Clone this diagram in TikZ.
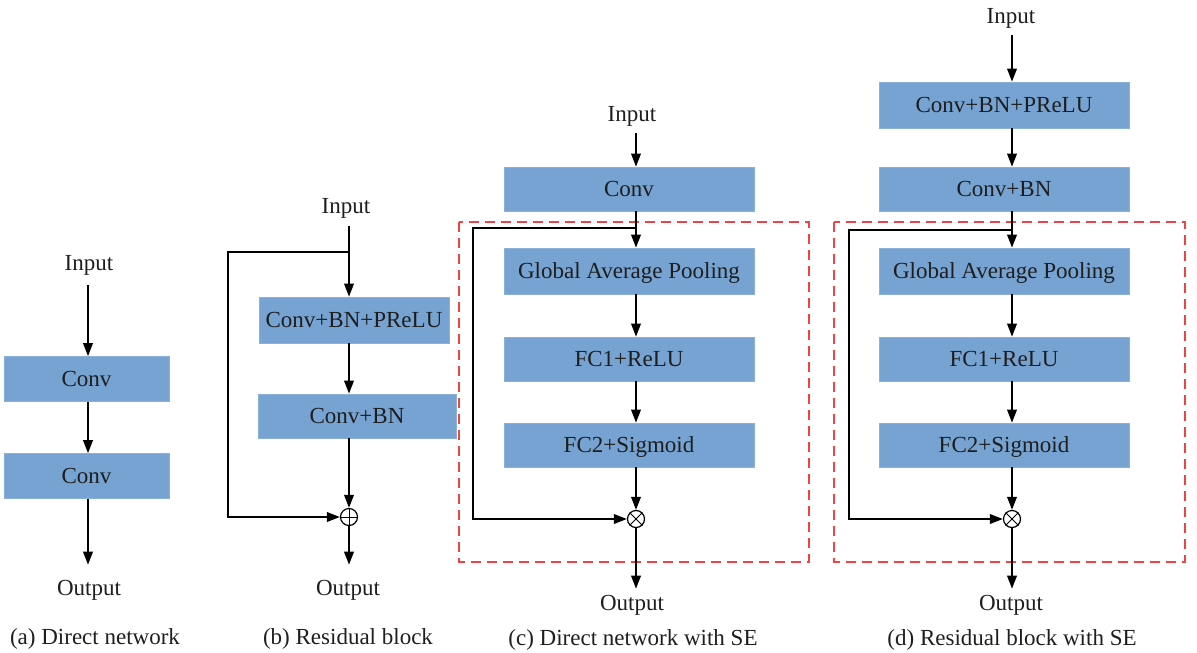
\documentclass[tikz,border=0pt]{standalone}
\usepackage{fontspec}
\setmainfont{Liberation Serif}
\usetikzlibrary{arrows.meta}
\definecolor{boxblue}{RGB}{118,163,210}
\definecolor{dashred}{RGB}{238,68,68}
\definecolor{txtc}{RGB}{30,30,30}
\begin{document}
\begin{tikzpicture}[x=1pt,y=-1pt,
  blk/.style={fill=boxblue, draw=boxblue!85!white, line width=0.6pt, minimum width=250pt, minimum height=44pt, inner sep=0pt, text height=15.5pt, text depth=0pt, font=\fontsize{23}{27}\selectfont, text=txtc},
  lbl/.style={inner sep=0pt, yshift=-3pt, font=\fontsize{23}{27}\selectfont, text=txtc},
  ln/.style={line width=2pt, black},
  arr/.style={ln, -{Triangle[length=13pt,width=9.5pt]}},
  opc/.style={circle, draw, line width=1.2pt, minimum size=17pt, inner sep=0pt, fill=white},
  opl/.style={line width=0.9pt},
  se/.style={draw=dashred, line width=1.3pt, dash pattern=on 10pt off 6pt}]
\useasboundingbox (0,0) rectangle (1197,653);

% ---------- (a) ----------
\node[lbl] (ia) at (89,262) {Input};
\node[blk, minimum width=165pt, minimum height=45pt] (a1) at (86.5,379) {Conv};
\node[blk, minimum width=165pt, minimum height=45pt] (a2) at (86.5,476) {Conv};
\node[lbl] (oa) at (89,587) {Output};
\node[lbl] (capa) at (95,636) {(a) Direct network};
\coordinate (ax) at (88,0);
\draw[arr, shorten <=10pt] (ia.south -| ax) -- (a1.north -| ax);
\draw[arr] (a1.south -| ax) -- (a2.north -| ax);
\draw[arr, shorten >=15pt] (a2.south -| ax) -- (oa.north -| ax);

% ---------- (b) ----------
\node[lbl] (ib) at (346,205) {Input};
\node[blk, minimum width=190pt, minimum height=46pt] (b1) at (354,320) {Conv+BN+PReLU};
\node[blk, minimum width=198pt, minimum height=44pt] (b2) at (357,416) {Conv+BN};
\node[opc] (pb) at (349,517) {};
\draw[opl] (pb.north) -- (pb.south) (pb.west) -- (pb.east);
\node[lbl] (ob) at (348,587) {Output};
\node[lbl] (capb) at (348,636) {(b) Residual block};
\coordinate (bb) at (349,252);
\coordinate (bl) at (228,252);
\draw[arr, shorten <=8pt] (ib.south -| pb) -- (b1.north -| pb);
\draw[arr] (bb) -- (bl) |- (pb.west);
\draw[arr] (b1.south -| pb) -- (b2.north -| pb);
\draw[arr] (b2.south -| pb) -- (pb.north);
\draw[arr, shorten >=15pt] (pb.south) -- (ob.north -| pb);

% ---------- (c) ----------
\draw[se] (459,222) rectangle (809,562);
\node[lbl] (ic) at (632,113) {Input};
\node[blk] (c0) at (629,189) {Conv};
\node[blk, minimum height=46pt] (c1) at (629,271) {Global Average Pooling};
\node[blk] (c2) at (629,359) {FC1+ReLU};
\node[blk] (c3) at (629,445) {FC2+Sigmoid};
\node[opc] (xc) at (636,519) {};
\draw[opl] (xc.north east) -- (xc.south west) (xc.north west) -- (xc.south east);
\node[lbl] (oc) at (632,602) {Output};
\node[lbl] (capc) at (633,637) {(c) Direct network with SE};
\coordinate (cb) at (636,228);
\coordinate (cl) at (473,228);
\draw[arr, shorten <=7pt] (ic.south -| xc) -- (c0.north -| xc);
\draw[arr] (c0.south -| xc) -- (c1.north -| xc);
\draw[arr] (cb) -- (cl) |- (xc.west);
\draw[arr] (c1.south -| xc) -- (c2.north -| xc);
\draw[arr] (c2.south -| xc) -- (c3.north -| xc);
\draw[arr] (c3.south -| xc) -- (xc.north);
\draw[arr, shorten >=6pt] (xc.south) -- (oc.north -| xc);

% ---------- (d) ----------
\draw[se] (834,222) rectangle (1185,562);
\node[lbl] (id) at (1011,15) {Input};
\node[blk, minimum height=46pt] (d0) at (1004,105) {Conv+BN+PReLU};
\node[blk] (d1) at (1004,189) {Conv+BN};
\node[blk, minimum height=46pt] (d2) at (1004,271) {Global Average Pooling};
\node[blk] (d3) at (1004,359) {FC1+ReLU};
\node[blk] (d4) at (1004,445) {FC2+Sigmoid};
\node[opc] (xd) at (1012,519) {};
\draw[opl] (xd.north east) -- (xd.south west) (xd.north west) -- (xd.south east);
\node[lbl] (od) at (1011,602) {Output};
\node[lbl] (capd) at (1012,637) {(d) Residual block with SE};
\coordinate (db) at (1012,230);
\coordinate (dl) at (849,230);
\draw[arr, shorten <=7pt] (id.south -| xd) -- (d0.north -| xd);
\draw[arr] (d0.south -| xd) -- (d1.north -| xd);
\draw[arr] (d1.south -| xd) -- (d2.north -| xd);
\draw[arr] (db) -- (dl) |- (xd.west);
\draw[arr] (d2.south -| xd) -- (d3.north -| xd);
\draw[arr] (d3.south -| xd) -- (d4.north -| xd);
\draw[arr] (d4.south -| xd) -- (xd.north);
\draw[arr, shorten >=6pt] (xd.south) -- (od.north -| xd);
\end{tikzpicture}
\end{document}
